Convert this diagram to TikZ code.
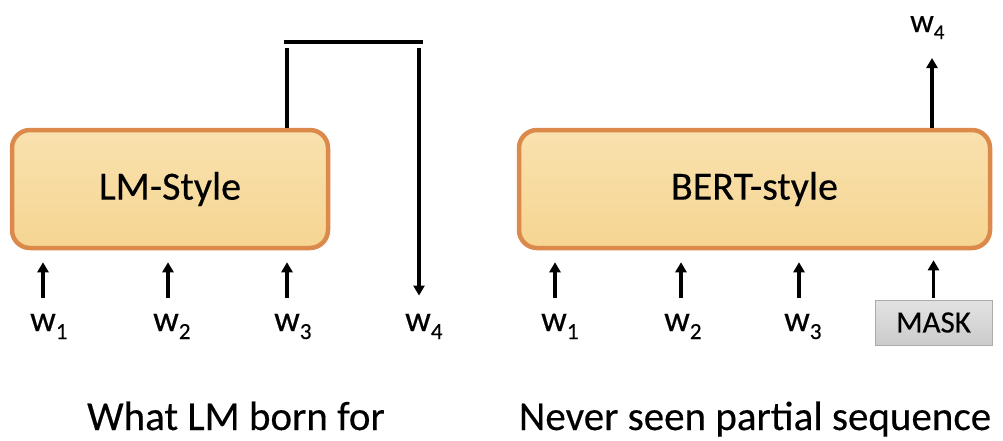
\documentclass[tikz,border=0pt]{standalone}
\usepackage{fontspec}
\setmainfont{Carlito}[FakeBold=0.35]
\usetikzlibrary{arrows.meta,calc}
\definecolor{boxorange}{HTML}{DB8A4C}
\definecolor{boxtop}{HTML}{F9E1AE}
\definecolor{boxbot}{HTML}{F5D592}
\definecolor{maskfill}{HTML}{D6D6D6}
\definecolor{maskline}{HTML}{ABABAB}
\newcommand\wsub[1]{w\rlap{\raisebox{-8pt}{\fontsize{23}{23}\selectfont #1}}}
\newcommand\wsubtop[1]{w\rlap{\raisebox{-7pt}{\fontsize{21}{21}\selectfont #1}}}
\begin{document}
\begin{tikzpicture}[x=1pt,y=-1pt,
  modelbox/.style={draw=boxorange, line width=4.5pt, rounded corners=18pt,
    top color=boxtop, bottom color=boxbot, inner sep=0pt,
    minimum height=118pt, font=\fontsize{40}{40}\selectfont},
  wlab/.style={inner sep=0pt, anchor=base, font=\fontsize{36}{36}\selectfont},
  arr/.style={line width=3.3pt, -{Triangle[width=11pt,length=10pt]}},
  bar/.style={line width=3.6pt},
  caption/.style={inner sep=0pt, anchor=base, font=\fontsize{41}{41}\selectfont},
  maskbox/.style={draw=maskline, line width=1pt, top color=maskfill!70!white,
    bottom color=maskfill!95!black, inner sep=0pt, minimum width=117pt,
    minimum height=45pt, font=\fontsize{31}{31}\selectfont}
]
\useasboundingbox (0,0) rectangle (1003,440);

% left: LM-style
\node[modelbox, minimum width=316pt] (lm) at (170,189) {LM-Style};
\node[wlab] (lw1) at (43,331) {\wsub{1}};
\node[wlab] (lw2) at (166,331) {\wsub{2}};
\node[wlab] (lw3) at (287,331) {\wsub{3}};
\node[wlab] (lw4) at (418,331) {\wsub{4}};
\foreach \n/\x in {lw1/43,lw2/168,lw3/287}{
  \draw[arr] ($(\n.north -| \x,0)+(0,-16)$) -- ($(\x,0 |- lm.south)+(0,12)$);
}
\coordinate (c1) at (287,48);
\coordinate (c2) at (284,42);
\coordinate (c3) at (423,42);
\coordinate (c4) at (419,48);
\draw[bar] (287,0 |- lm.north) -- (c1);
\draw[bar] (c2) -- (c3);
\draw[arr] (c4) -- ($(c4 |- lw4.north)+(0,-18)$);
\node[caption] (cap1) at (236,430) {What LM born for};

% right: BERT-style
\node[modelbox, minimum width=471pt] (bert) at (754.5,189) {BERT-style};
\node[wlab] (rw1) at (554,331) {\wsub{1}};
\node[wlab] (rw2) at (677,331) {\wsub{2}};
\node[wlab] (rw3) at (797,331) {\wsub{3}};
\node[maskbox] (mask) at (933.5,322.5) {MASK};
\foreach \n/\x in {rw1/555,rw2/681,rw3/799}{
  \draw[arr] ($(\n.north -| \x,0)+(0,-16)$) -- ($(\x,0 |- bert.south)+(0,12)$);
}
\draw[arr] ($(mask.north)+(0,-2)$) -- ($(mask.north |- bert.south)+(0,10)$);
\node[wlab, font=\fontsize{33}{33}\selectfont] (tw4) at (922,32) {\wsubtop{4}};
\draw[arr] (932,0 |- bert.north) -- ($(932,0 |- tw4.base)+(0,26)$);
\node[caption] (cap2) at (755,430) {Never seen partial sequence};
\end{tikzpicture}
\end{document}
